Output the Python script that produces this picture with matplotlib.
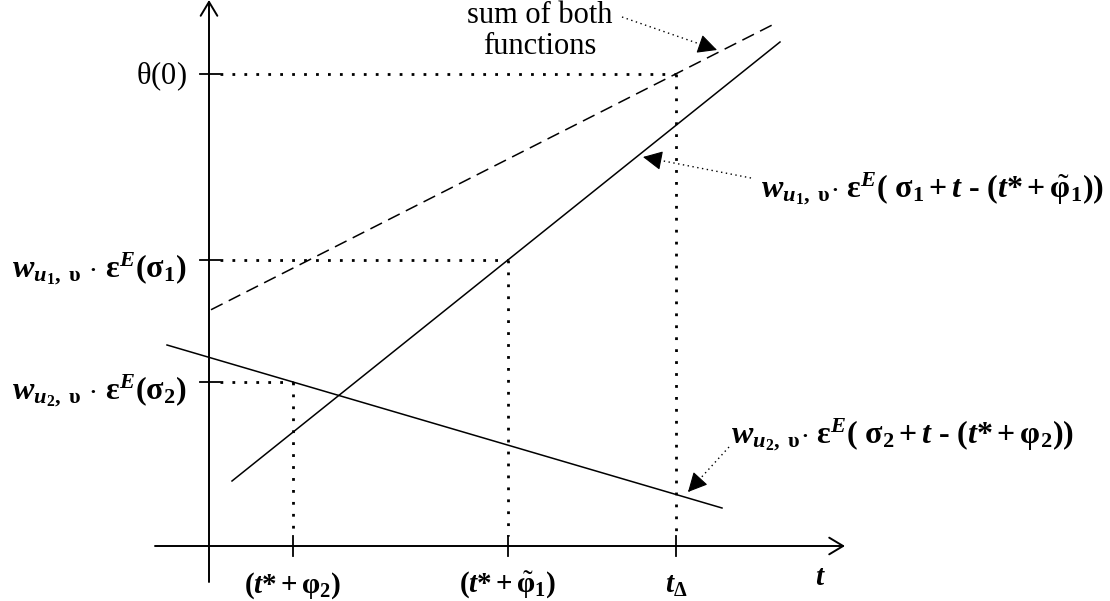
import numpy as np
import matplotlib.pyplot as plt

plt.rcParams['font.family'] = 'Liberation Serif'
plt.rcParams['mathtext.fontset'] = 'custom'
plt.rcParams['mathtext.rm'] = 'Liberation Serif'
plt.rcParams['mathtext.it'] = 'Liberation Serif:italic'
plt.rcParams['mathtext.bf'] = 'Liberation Serif:bold'
plt.rcParams['mathtext.bfit'] = 'Liberation Serif:italic:bold'

HYPHEN = '\u2010'

# rising contribution (end points: time, value)
t_rise = [0.23, 5.71]
v_rise = [0.65, 5.04]
# falling contribution
t_fall = [-0.42, 5.13]
v_fall = [2.01, 0.38]
# time span of the dashed sum
t_sum = [0.02, 5.64]

# marked times on the t axis
tick_t = [0.84, 2.99, 4.67]
tick_labels = [r'$\mathbf{(}\mathbfit{t}\mathbf{*+\varphi_2)}$',
               r'$\mathbf{(}\mathbfit{t}\mathbf{*+}\tilde{\mathbf{\varphi}}\mathbf{_1)}$',
               r'$\mathbfit{t}_{\mathbf{\Delta}}$']
level_labels = [r'$\mathbfit{w}_{\mathbfit{u}_{\mathbf{2}}\mathbf{,\ \upsilon}}\ \mathbf{\cdot}\ '
                r'\mathbf{\varepsilon}^{\mathbfit{E}}\mathbf{(\sigma_2)}$',
                r'$\mathbfit{w}_{\mathbfit{u}_{\mathbf{1}}\mathbf{,\ \upsilon}}\ \mathbf{\cdot}\ '
                r'\mathbf{\varepsilon}^{\mathbfit{E}}\mathbf{(\sigma_1)}$',
                r'$\mathrm{\theta(0)}$']
level_sizes = [23, 23, 22]
level_drop = [0.18, 0.18, 0.10]

rise_label = (r'$\mathbfit{w}_{\mathbfit{u}_{\mathbf{1}}\mathbf{,\ \upsilon}}\mathbf{\cdot}\ '
              r'\mathbf{\varepsilon}^{\mathbfit{E}}\mathbf{(\ \sigma_1+}\mathbfit{t}\mathbf{\ '
              + HYPHEN + r'\ (}\mathbfit{t}\mathbf{*+}\tilde{\mathbf{\varphi}}\mathbf{_1))}$')
fall_label = (r'$\mathbfit{w}_{\mathbfit{u}_{\mathbf{2}}\mathbf{,\ \upsilon}}\mathbf{\cdot}\ '
              r'\mathbf{\varepsilon}^{\mathbfit{E}}\mathbf{(\ \sigma_2+}\mathbfit{t}\mathbf{\ '
              + HYPHEN + r'\ (}\mathbfit{t}\mathbf{*+\varphi_2))}$')

rise = np.poly1d(np.polyfit(t_rise, v_rise, 1))
fall = np.poly1d(np.polyfit(t_fall, v_fall, 1))

def total(t):
    return rise(t) + fall(t)

# level reached by each function at its marked time
levels = [fall(tick_t[0]), rise(tick_t[1]), total(tick_t[2])]

fig = plt.figure(figsize=(11.1, 6.01), dpi=100)
ax = fig.add_axes([0, 0, 1, 1])
ax.set_xlim(-2.09, 9.01)
ax.set_ylim(-0.55, 5.46)
ax.axis('off')

# axes with open arrow heads
axis_arrow = dict(arrowstyle='->,head_length=0.5,head_width=0.3', lw=1.4,
                  color='k', mutation_scale=20, shrinkA=0, shrinkB=0)
ax.annotate('', xy=(0, 5.46), xytext=(0, -0.36), arrowprops=axis_arrow)
ax.annotate('', xy=(6.36, 0), xytext=(-0.54, 0), arrowprops=axis_arrow)

# the two functions and their sum
ax.plot(t_rise, rise(np.array(t_rise)), color='k', lw=1.1)
ax.plot(t_fall, fall(np.array(t_fall)), color='k', lw=1.1)
ts = np.array(t_sum)
ax.plot(ts, total(ts), color='k', lw=1.1, dashes=(8.5, 4.5))

# guide lines, ticks and labels
for i, (t, lv) in enumerate(zip(tick_t, levels)):
    ax.plot([0.11, t], [lv, lv], color='k', lw=2, linestyle=(0, (1, 3.3)))
    ax.plot([t, t], [lv, 0.1], color='k', lw=2, linestyle=(0, (1, 3.3)))
    ax.plot([-0.09, 0.11], [lv, lv], color='k', lw=1.3)
    ax.plot([t, t], [-0.1, 0.1], color='k', lw=1.3)
    ax.text(t, -0.47, tick_labels[i], ha='center', va='baseline', fontsize=21)
    ax.text(-0.22, lv - level_drop[i], level_labels[i], ha='right', va='baseline',
            fontsize=level_sizes[i])

ax.text(6.11, -0.39, r'$\mathbfit{t}$', ha='center', va='baseline', fontsize=21)

# annotations with dotted leaders
def leader(x0, y0, x1, y1):
    ax.plot([x0, x1], [y0, y1], color='k', lw=1, linestyle=(0, (1, 2.5)))
    d = np.array([x1 - x0, y1 - y0])
    d = d / np.hypot(*d) * 0.05
    ax.annotate('', xy=(x1, y1), xytext=(x1 - d[0], y1 - d[1]),
                arrowprops=dict(arrowstyle='-|>,head_length=0.6,head_width=0.3',
                                color='k', lw=0.8, mutation_scale=20,
                                shrinkA=0, shrinkB=0))

ax.text(3.31, 5.15, 'sum of both\nfunctions', ha='center', va='center',
        fontsize=22, linespacing=1.1)
leader(4.13, 5.29, 5.08, 4.96)

ax.text(5.52, 3.48, rise_label, ha='left', va='baseline', fontsize=23)
leader(5.42, 3.68, 4.34, 3.89)

ax.text(5.22, 1.02, fall_label, ha='left', va='baseline', fontsize=23)
leader(5.20, 0.99, 4.79, 0.54)

fig.savefig('out.png', dpi=100)
